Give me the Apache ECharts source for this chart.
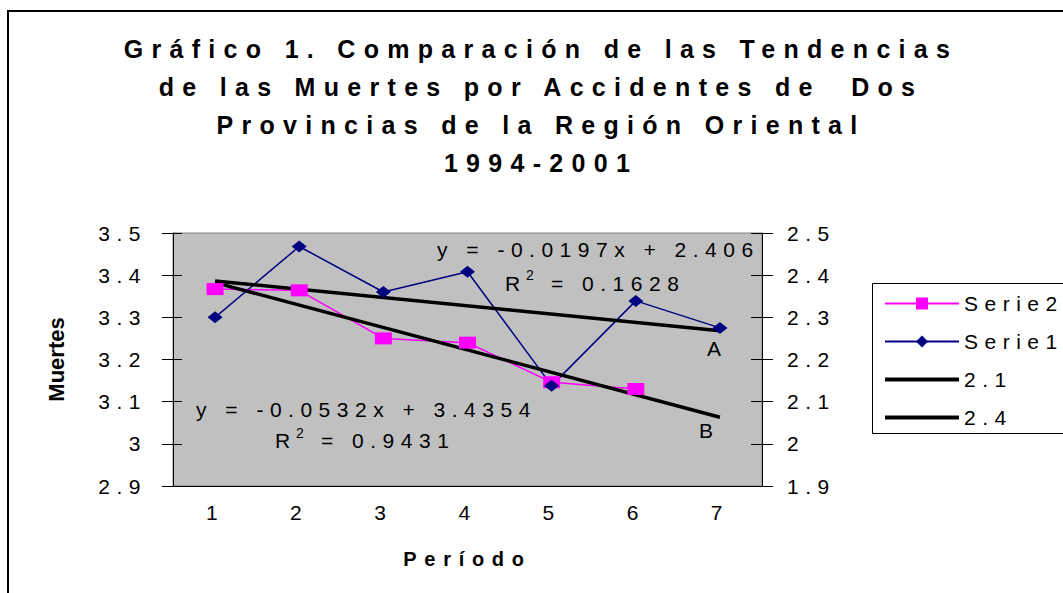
<!DOCTYPE html>
<html>
<head>
<meta charset="utf-8">
<script src="https://cdn.jsdelivr.net/npm/echarts@6/dist/echarts.min.js"></script>
<style>
html,body{margin:0;padding:0;background:#fff;}
#chart{width:1063px;height:593px;}
#chart text{letter-spacing:6.5px;}
#chart text[style*="25px"]{letter-spacing:8.3px;}
#chart text[style*="20px"]{letter-spacing:7.7px;}
#chart text[style*="22px"]{letter-spacing:0;}
</style>
</head>
<body>
<div id="chart"></div>
<script>
const titleLines = ['Gráfico 1. Comparación de las Tendencias', 'de las Muertes por Accidentes de  Dos', 'Provincias de la Región Oriental', '1994-2001'];
const categories = ['1', '2', '3', '4', '5', '6', '7'];
const serie2 = [3.367, 3.364, 3.250, 3.240, 3.146, 3.130, null];
const serie1 = [2.300, 2.468, 2.360, 2.408, 2.138, 2.339, 2.275];
const trendA = [2.3863, null, null, null, null, null, 2.2681];
const trendB = [3.3822, null, null, null, null, null, 3.0630];
const leftTicks = {min: 2.9, max: 3.5, interval: 0.1};
const rightTicks = {min: 1.9, max: 2.5, interval: 0.1};
const legendNames = ['Serie2', 'Serie1', '2.1', '2.4'];
const eqA = 'y = -0.0197x + 2.406';
const r2A = '= 0.1628';
const eqB = 'y = -0.0532x + 3.4354';
const r2B = '= 0.9431';

const FF = '"Liberation Sans", Arial, sans-serif';
const chart = echarts.init(document.getElementById('chart'), null, {renderer: 'svg'});

const lbl = {color: '#000', fontSize: 21, fontFamily: FF};
const hidden = {color: 'rgba(0,0,0,0)', borderWidth: 0, opacity: 0};
function txt(x, y, text, size) {
  return {type: 'text', x: x, y: y, z: 100, silent: true,
    style: {text: text, verticalAlign: 'middle', fontSize: size || 21, fontFamily: FF, fill: '#000'}};
}

chart.setOption({
  animation: false,
  backgroundColor: '#fff',
  grid: {left: 173, right: 301, top: 233, bottom: 107, show: true, backgroundColor: '#c0c0c0', borderColor: '#808080', borderWidth: 1},
  legend: {
    data: [
      {name: legendNames[0]}, {name: legendNames[1]},
      {name: legendNames[2], itemStyle: hidden, lineStyle: {width: 4, color: '#000'}},
      {name: legendNames[3], itemStyle: hidden, lineStyle: {width: 4, color: '#000'}}
    ],
    orient: 'vertical', left: 872, top: 283,
    padding: [10, 20, 10, 11], itemGap: 17, itemWidth: 74, itemHeight: 15,
    borderWidth: 0, backgroundColor: 'transparent',
    textStyle: {color: '#000', fontSize: 21, fontFamily: FF}
  },
  xAxis: [
    {type: 'category', data: categories, boundaryGap: true,
     axisLine: {lineStyle: {color: '#000', width: 1}},
     axisTick: {length: 8, lineStyle: {color: '#000'}},
     axisLabel: Object.assign({margin: 16}, lbl),
     name: 'Período', nameLocation: 'middle', nameGap: 63,
     nameTextStyle: {color: '#000', fontSize: 20, fontWeight: 'bold', fontFamily: FF}},
    {type: 'category', data: categories, boundaryGap: true, position: 'bottom',
     axisLine: {show: false}, axisLabel: {show: false},
     axisTick: {inside: true, length: 5, lineStyle: {color: '#000'}}}
  ],
  yAxis: [
    Object.assign({type: 'value', position: 'left', splitLine: {show: false},
     axisLine: {show: true, lineStyle: {color: '#000'}},
     axisTick: {show: true, length: 11, lineStyle: {color: '#000'}},
     axisLabel: Object.assign({margin: 26}, lbl),
     name: 'Muertes', nameLocation: 'middle', nameGap: 106, nameRotate: 90,
     nameTextStyle: {color: '#000', fontSize: 22, fontWeight: 'bold', fontFamily: FF}}, leftTicks),
    Object.assign({type: 'value', position: 'right', splitLine: {show: false},
     axisLine: {show: true, lineStyle: {color: '#000'}},
     axisTick: {show: true, length: 11, lineStyle: {color: '#000'}},
     axisLabel: Object.assign({margin: 25}, lbl)}, rightTicks),
    Object.assign({type: 'value', position: 'left', splitLine: {show: false},
     axisLine: {show: false}, axisLabel: {show: false},
     axisTick: {show: true, inside: true, length: 9, lineStyle: {color: '#000'}}}, leftTicks),
    Object.assign({type: 'value', position: 'right', splitLine: {show: false},
     axisLine: {show: false}, axisLabel: {show: false},
     axisTick: {show: true, inside: true, length: 11, lineStyle: {color: '#000'}}}, rightTicks)
  ],
  series: [
    {name: 'Serie2', type: 'line', yAxisIndex: 0, data: serie2,
     symbol: 'rect', symbolSize: [17, 12], itemStyle: {color: '#ff00ff'},
     lineStyle: {color: '#ff00ff', width: 1.5}},
    {name: 'Serie1', type: 'line', yAxisIndex: 1, data: serie1,
     symbol: 'diamond', symbolSize: [15, 12], itemStyle: {color: '#000080'},
     lineStyle: {color: '#000080', width: 1.5}},
    {name: '2.1', type: 'line', yAxisIndex: 1, data: trendA, connectNulls: true,
     symbol: 'none', itemStyle: {color: '#000'}, lineStyle: {color: '#000', width: 3.5}},
    {name: '2.4', type: 'line', yAxisIndex: 0, data: trendB, connectNulls: true,
     symbol: 'none', itemStyle: {color: '#000'}, lineStyle: {color: '#000', width: 3.5}}
  ],
  graphic: [
    {type: 'rect', silent: true, shape: {x: 8, y: 11, width: 1200, height: 800},
     style: {fill: 'none', stroke: '#000', lineWidth: 2}},
    {type: 'rect', silent: true, shape: {x: 872.5, y: 283.5, width: 400, height: 150},
     style: {fill: 'none', stroke: '#000', lineWidth: 1}},
    {type: 'text', x: 541, y: 30, silent: true, style: {text: titleLines.join('\n'), align: 'center', verticalAlign: 'top',
     lineHeight: 38, fontSize: 25, fontWeight: 'bold', fontFamily: FF, fill: '#000'}},
    txt(437, 249, eqA),
    txt(505, 283, 'R'),
    txt(526, 275, '2', 14),
    txt(551, 283, r2A),
    txt(196, 409, eqB),
    txt(275, 440, 'R'),
    txt(296, 433, '2', 14),
    txt(321, 440, r2B),
    txt(707, 348, 'A'),
    txt(699, 430, 'B')
  ]
});
</script>
</body>
</html>
